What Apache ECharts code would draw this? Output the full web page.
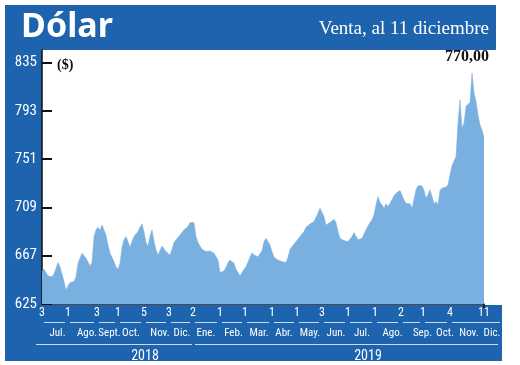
<!DOCTYPE html>
<html><head><meta charset="utf-8">
<script src="https://cdn.jsdelivr.net/npm/echarts@6/dist/echarts.min.js"></script>
<style>html,body{margin:0;padding:0;background:#fff}#c{width:520px;height:365px}</style>
</head><body><div id="c"></div>
<script>
// Observed dollar (venta), equally spaced samples from 3 Jul 2018 to 11 Dec 2019
const values = [
653.2,655.2,655.2,649.4,650.3,648.8,651.1,656.1,661.0,657.5,
651.1,644.5,637.2,640.7,643.6,644.5,644.5,648.8,660.4,664.8,
669.2,669.7,664.8,666.2,658.1,661.0,683.7,689.5,691.8,688.9,
693.8,694.7,685.1,676.4,669.2,665.7,661.9,657.5,655.2,660.4,
674.4,680.8,683.7,679.3,674.4,679.3,683.7,686.0,688.0,691.8,
694.7,688.0,678.5,675.5,683.7,689.5,679.3,672.1,667.7,669.2,
675.5,674.4,670.6,670.6,667.7,672.6,678.5,680.8,682.2,685.1,
687.2,689.5,690.9,692.4,
695.9,696.8,695.9,683.7,678.5,675.5,672.6,672.1,670.6,672.1,
671.2,669.7,669.2,667.7,663.3,652.3,651.7,653.8,657.0,661.0,
663.3,663.9,660.4,655.2,652.3,649.4,651.1,655.2,657.5,659.0,
665.7,669.7,667.7,669.2,666.2,665.7,671.5,679.3,682.2,681.4,
676.4,670.6,665.7,664.8,663.3,663.3,661.9,662.8,661.0,665.7,
672.6,675.0,676.4,679.3,681.4,683.7,684.3,688.0,691.8,693.0,
694.7,695.3,696.8,698.2,704.0,708.4,709.2,701.1,693.8,693.0,
695.9,694.7,698.8,695.9,
688.0,682.2,680.8,680.2,679.3,679.3,679.3,683.7,687.2,686.6,
680.8,679.3,682.2,686.0,689.5,693.0,695.9,698.2,702.6,711.3,
718.5,713.3,711.3,708.4,712.2,709.8,712.7,712.2,719.1,721.4,
722.0,723.8,724.9,715.6,712.7,714.2,712.2,708.4,716.2,724.4,
727.8,728.4,727.8,723.8,717.1,720.0,724.4,718.5,712.2,714.2,
711.3,723.8,725.8,726.7,726.7,728.7,737.4,745.3,744.1,753.4,
782.5,802.8,778.1,782.5,797.0,798.4,800.5,826.0,808.6,801.3,
789.7,781.0,776.6,770.0
];
// first session of each month (sample index) and its day number
const dayTickIdx = [0,13,27.5,38,51,63.5,75.5,89,101.5,115,127.5,140,153,166.5,179.5,190.5,204,221];
const dayTickLabels = ['3','1','3','1','5','3','2','1','1','1','1','3','1','1','2','1','4','11'];
// month names
const monthIdx = [7.75,22.5,33.75,44.5,59,70,82,95.75,108.5,121,134,147,160,175.25,190.25,201.5,213.5,221];
const monthNames = ['Jul.','Ago.','Sept.','Oct.','Nov.','Dic.','Ene.','Feb.','Mar.','Abr.','May.','Jun.','Jul.','Ago.','Sep.','Oct.','Nov.','Dic.'];
// years
const yearIdx = [51.5,163];
const yearLabels = ['2018','2019'];
const yearStartTick = 6; // index into dayTickIdx where 2019 begins
// y ticks
const yTicks = [625,667,709,751,793,835];

const BLUE = '#1e63ad';
const AREA = '#7ab0e0';
const NARROW = "'Roboto Condensed','Liberation Sans Narrow','DejaVu Sans Condensed','Roboto',sans-serif";
const SERIF = "'Liberation Serif','DejaVu Serif',serif";
const lastLabel = values[values.length-1].toFixed(2).replace('.', ',');

const chart = echarts.init(document.getElementById('c'), null, {renderer:'canvas'});
const xMax = values.length - 1;
const option = {
  animation:false,
  backgroundColor:'#fff',
  title:[
    {text:'Dólar', left:21, top:10, padding:0, textStyle:{color:'#fff', fontSize:34, fontWeight:'bold', fontFamily:"'Noto Sans',sans-serif"}},
    {text:'Venta, al 11 diciembre', right:31, top:20, padding:0, textStyle:{color:'#fff', fontSize:19, fontWeight:'normal', fontFamily:SERIF}},
    {text:'($)', left:57, top:58, padding:0, textStyle:{color:'#111', fontSize:14, fontWeight:'bold', fontFamily:SERIF}},
    {text:lastLabel, right:31, top:49, padding:0, textStyle:{color:'#111', fontSize:16, fontWeight:'bold', fontFamily:SERIF}}
  ],
  grid:{left:42, right:36, top:50, bottom:61, containLabel:false},
  xAxis:[
    {type:'value', min:0, max:xMax, position:'bottom',
     axisLine:{show:true, lineStyle:{color:'#111', width:1.5}},
     axisTick:{show:true, customValues:[xMax], length:4, lineStyle:{color:'#111', width:1.5}},
     splitLine:{show:false},
     axisLabel:{customValues:dayTickIdx, margin:3, color:'#fff', fontSize:12, fontFamily:NARROW,
       showMinLabel:true, showMaxLabel:true,
       formatter:v=>dayTickLabels[dayTickIdx.indexOf(v)]}},
    {type:'value', min:0, max:xMax, position:'bottom', offset:20,
     axisLine:{show:false}, axisTick:{show:false}, splitLine:{show:false},
     axisLabel:{customValues:monthIdx, margin:4, color:'#fff', fontSize:11, fontFamily:NARROW,
       showMinLabel:true, showMaxLabel:true,
       formatter:v=>{const i=monthIdx.lastIndexOf(v); const n=monthNames[i]; return (v===xMax)?'{d|'+n+'}':n;},
       rich:{d:{padding:[0,0,0,16], color:'#fff', fontSize:11, fontFamily:NARROW}}}},
    {type:'value', min:0, max:xMax, position:'bottom', offset:41,
     axisLine:{show:false}, axisTick:{show:false}, splitLine:{show:false},
     axisLabel:{customValues:yearIdx, margin:4, color:'#fff', fontSize:14, fontFamily:NARROW,
       formatter:v=>yearLabels[yearIdx.indexOf(v)]}}
  ],
  yAxis:{type:'value', min:625, max:846,
    axisLine:{show:true, lineStyle:{color:'#111', width:1.5}},
    axisTick:{show:true, inside:true, length:10, customValues:yTicks, lineStyle:{color:'#111', width:2}},
    splitLine:{show:false},
    axisLabel:{customValues:yTicks, margin:5, color:'#fff', fontSize:15, fontFamily:NARROW}},
  series:[{type:'line', data:values.map((v,i)=>[i,v]), showSymbol:false, smooth:false,
    lineStyle:{color:AREA, width:0.5}, areaStyle:{color:AREA, opacity:1}, z:1}]
};
chart.setOption(option);

// decorative blue panels and month/year rules positioned through the x scale
const px = v => chart.convertToPixel({xAxisIndex:0}, v);
const g = [
  {type:'rect', z:-10, shape:{x:5, y:5, width:491, height:45}, style:{fill:BLUE}},
  {type:'rect', z:-10, shape:{x:5, y:50, width:37, height:311}, style:{fill:BLUE}},
  {type:'rect', z:-10, shape:{x:5, y:305, width:497, height:56}, style:{fill:BLUE}}
];
const RULE = '#c9dcef';
for (let i=0;i<dayTickIdx.length-1;i++){
  g.push({type:'line', z:-5, shape:{x1:px(dayTickIdx[i])+2, y1:322.5, x2:px(dayTickIdx[i+1])-3, y2:322.5}, style:{stroke:RULE, lineWidth:1}});
}
g.push({type:'line', z:-5, shape:{x1:px(xMax)-3, y1:322.5, x2:px(xMax)+16, y2:322.5}, style:{stroke:RULE, lineWidth:1}});
const jan = dayTickIdx[yearStartTick];
g.push({type:'line', z:-5, shape:{x1:px(0)-6, y1:344.5, x2:px(jan)-1, y2:344.5}, style:{stroke:RULE, lineWidth:1}});
g.push({type:'line', z:-5, shape:{x1:px(jan)+2, y1:344.5, x2:px(xMax)+14, y2:344.5}, style:{stroke:RULE, lineWidth:1}});
chart.setOption({graphic:g});
</script></body></html>
